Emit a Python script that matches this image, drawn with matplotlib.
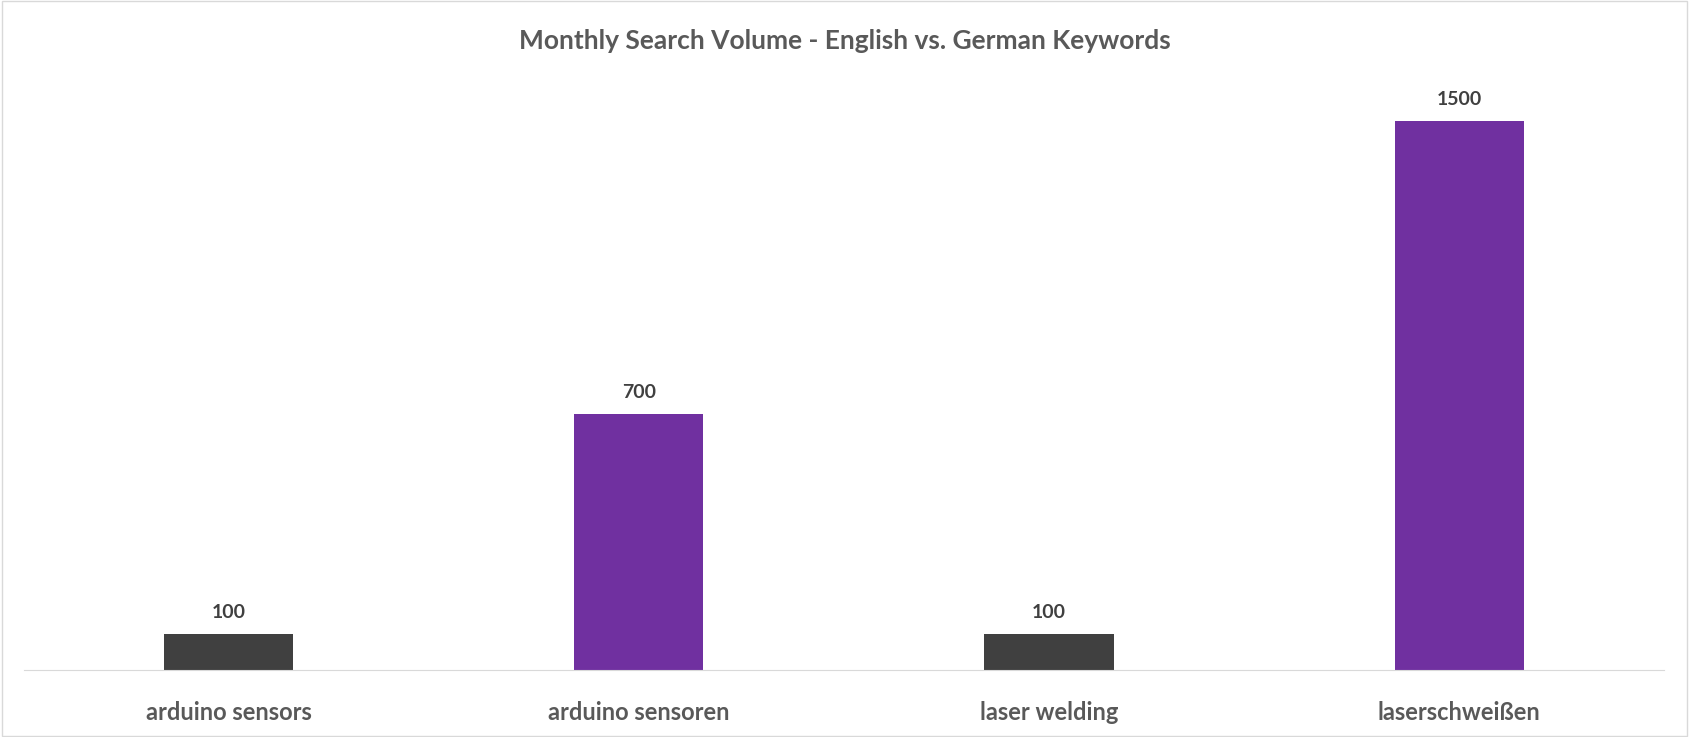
import matplotlib
matplotlib.use('Agg')
import matplotlib.pyplot as plt
from matplotlib.patches import Rectangle

categories = ['arduino sensors', 'arduino sensoren', 'laser welding', 'laserschweißen']
volumes = [100, 700, 100, 1500]
bar_colors = ['#404040', '#7030A0', '#404040', '#7030A0']

plt.rcParams['font.family'] = ['Lato', 'DejaVu Sans']
text_col = '#595959'

# layout measured on a 1568x684 view of the reference
W, H = 1568.0, 684.0

fig = plt.figure(figsize=(16.89, 7.37), dpi=100)
ax = fig.add_axes([22 / W, (H - 622) / H, 1523 / W, 544 / H])

x = range(len(categories))
bars = ax.bar(x, volumes, width=0.315, color=bar_colors)
for b, v in zip(bars, volumes):
    ax.annotate(str(v), (b.get_x() + b.get_width() / 2, v), xytext=(0, 9),
                textcoords='offset points', ha='center', va='bottom',
                fontsize=14, fontweight='bold', color='#404040')

ax.set_xlim(-0.5, 3.5)
ax.set_ylim(0, 1600)
ax.set_xticks(list(x))
ax.set_xticklabels(categories, fontsize=17, fontweight='bold', color=text_col)
ax.tick_params(axis='x', length=0, pad=22)
ax.set_yticks([])
for s in ['top', 'right', 'left']:
    ax.spines[s].set_visible(False)
ax.spines['bottom'].set_color('#d9d9d9')

fig.text(0.5, 1 - 38 / H, 'Monthly Search Volume - English vs. German Keywords',
         ha='center', va='center', fontsize=19, fontweight='bold', color=text_col)

fig.patches.append(Rectangle((0.001, 0.002), 0.998, 0.996, transform=fig.transFigure,
                             fill=False, edgecolor='#d9d9d9', linewidth=1))

fig.savefig('out.png', dpi=100)
